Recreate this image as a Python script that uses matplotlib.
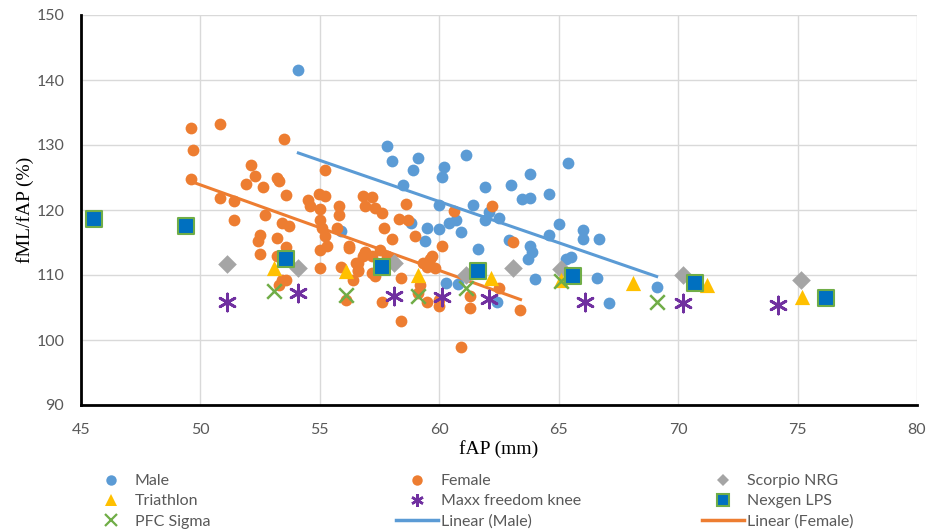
import numpy as np
import matplotlib
matplotlib.use("Agg")
import matplotlib.pyplot as plt
from matplotlib.lines import Line2D

# ---------------- data ----------------
male_x = [54.1, 55.9, 57.8, 58.0, 59.1, 58.9, 58.5, 60.2, 60.1, 61.1, 61.9, 63.0, 63.8, 63.45,
          63.8, 64.6, 60.0, 61.4, 62.1, 62.5, 61.9, 60.4, 60.7, 59.5, 60.0, 60.9, 58.8, 59.4,
          61.6, 62.9, 63.8, 63.9, 63.7, 64.6, 64.0, 60.3, 60.8, 62.4, 65.4, 65.0, 66.0, 66.0,
          66.7, 65.3, 65.5, 66.6, 67.1, 69.1]
male_y = [141.6, 116.7, 129.9, 127.6, 128.0, 126.2, 123.9, 126.6, 125.1, 128.5, 123.5, 123.8,
          125.5, 121.7, 121.9, 122.5, 120.7, 120.7, 119.7, 118.8, 118.4, 118.0, 118.4, 117.3,
          117.1, 116.6, 118.0, 115.3, 114.0, 115.4, 114.4, 113.6, 112.5, 116.2, 109.4, 108.8,
          108.6, 105.9, 127.2, 117.8, 116.9, 115.5, 115.6, 112.4, 112.8, 109.5, 105.7, 108.2]

female_x = [49.6, 50.8, 49.7, 53.5, 49.6, 52.1, 52.3, 51.9, 52.6, 53.2, 53.3, 53.6, 55.2, 50.8,
            51.4, 51.4, 52.7, 54.5, 54.6, 54.96, 55.2, 53.4, 53.7, 52.5, 52.4, 53.2, 53.6, 52.5,
            53.2, 55.0, 55.0, 55.1, 55.2, 55.7, 55.8, 55.8, 55.0, 55.3, 55.0, 55.9, 56.2, 56.1,
            53.4, 53.6, 53.3, 56.6, 56.6, 56.8, 56.9, 56.8, 57.2, 56.9, 57.3, 57.6, 58.6, 58.3,
            58.7, 57.7, 58.0, 59.0, 56.2, 56.9, 57.2, 57.5, 57.8, 58.1, 56.5, 56.6, 56.4, 57.2,
            57.3, 58.4, 59.6, 59.7, 59.8, 59.5, 59.3, 60.1, 60.6, 62.2, 63.1, 57.6, 58.4, 59.5,
            60.0, 60.0, 61.3, 61.3, 62.5, 63.4, 60.9, 59.1, 59.2]
female_y = [132.6, 133.3, 129.2, 131.0, 124.8, 126.9, 125.3, 124.0, 123.6, 124.9, 124.4, 122.3,
            126.2, 121.8, 121.4, 118.4, 119.2, 121.6, 120.6, 122.4, 122.1, 118.0, 117.6, 116.2,
            115.2, 115.7, 114.3, 113.2, 112.9, 120.1, 118.5, 117.3, 116.0, 117.3, 120.6, 119.3,
            113.9, 114.4, 111.1, 111.3, 114.4, 106.2, 109.3, 109.3, 108.5, 111.9, 110.6, 112.9,
            113.6, 122.1, 122.0, 120.6, 120.3, 119.6, 121.0, 118.6, 118.4, 117.3, 115.6, 116.0,
            114.2, 113.4, 112.9, 113.9, 112.9, 111.9, 111.9, 110.8, 109.3, 110.3, 109.8, 109.5,
            112.4, 112.9, 111.1, 111.3, 111.9, 114.4, 119.8, 120.6, 115.1, 105.8, 103.0, 105.9,
            105.2, 106.2, 106.7, 104.9, 108.0, 104.6, 99.0, 107.2, 108.5]

scorpio_x = [51.1, 54.1, 58.1, 61.1, 63.1, 65.1, 70.2, 75.15]
scorpio_y = [111.7, 111.1, 111.9, 110.0, 111.1, 110.9, 110.05, 109.3]

triathlon_x = [53.1, 56.1, 59.1, 62.15, 65.1, 68.1, 71.2, 75.2]
triathlon_y = [111.1, 110.6, 110.05, 109.5, 109.3, 108.7, 108.4, 106.6]

maxx_x = [51.1, 54.1, 58.1, 60.1, 62.1, 66.1, 70.2, 74.2]
maxx_y = [105.8, 107.3, 106.7, 106.6, 106.3, 105.9, 105.7, 105.4]

pfc_x = [53.1, 56.1, 59.1, 61.1, 65.1, 69.1]
pfc_y = [107.5, 107.0, 106.7, 108.0, 109.1, 105.8]

nexgen_x = [45.56, 49.4, 53.6, 57.6, 61.6, 65.6, 70.7, 76.2]
nexgen_y = [118.6, 117.6, 112.4, 111.2, 110.6, 109.9, 108.7, 106.45]

x_ticks = [45, 50, 55, 60, 65, 70, 75, 80]
y_ticks = [90, 100, 110, 120, 130, 140, 150]

# ---------------- style ----------------
C_MALE = "#5B9BD5"
C_FEMALE = "#ED7D31"
C_GRAY = "#A5A5A5"
C_YEL = "#FFC000"
C_PURP = "#7030A0"
C_GREEN = "#70AD47"
C_BLUE = "#0070C0"
TICK_COL = "#595959"
SANS = ["Lato", "DejaVu Sans"]
SERIF = ["Liberation Serif", "DejaVu Serif"]

fig = plt.figure(figsize=(9.36, 5.31), dpi=100)
ax = fig.add_axes([81 / 936, 1 - 405 / 531, (917 - 81) / 936, (405 - 15) / 531])

ax.set_xlim(45, 80)
ax.set_ylim(90, 150)
ax.set_xticks(x_ticks)
ax.set_yticks(y_ticks)
ax.grid(True, color="#D9D9D9", linewidth=1.0, zorder=0)
ax.set_axisbelow(True)
for s in ["top", "right"]:
    ax.spines[s].set_visible(False)
for s in ["left", "bottom"]:
    ax.spines[s].set_color("black")
    ax.spines[s].set_linewidth(2.0)
ax.tick_params(axis="x", length=0, pad=13, labelsize=11.5, labelcolor=TICK_COL)
ax.tick_params(axis="y", length=0, pad=12, labelsize=11.5, labelcolor=TICK_COL)
for lab in ax.get_xticklabels() + ax.get_yticklabels():
    lab.set_family(SANS)

ast = (6, 2, 0)

h_male = ax.scatter(male_x, male_y, s=72, color=C_MALE, zorder=3, linewidths=0)
h_female = ax.scatter(female_x, female_y, s=72, color=C_FEMALE, zorder=3, linewidths=0)

# trend lines (least squares)
mx = np.array(male_x); my = np.array(male_y)
pm = np.polyfit(mx, my, 1)
xm = np.array([mx.min(), mx.max()])
h_lm, = ax.plot(xm, np.polyval(pm, xm), color=C_MALE, lw=2.2, zorder=4)
fx = np.array(female_x); fy = np.array(female_y)
pf = np.polyfit(fx, fy, 1)
xf = np.array([fx.min(), fx.max()])
h_lf, = ax.plot(xf, np.polyval(pf, xf), color=C_FEMALE, lw=2.2, zorder=4)

h_sc = ax.scatter(scorpio_x, scorpio_y, s=90, marker="D", color=C_GRAY, zorder=5, linewidths=0)
h_tri = ax.scatter(triathlon_x, triathlon_y, s=120, marker="^", color=C_YEL, zorder=5, linewidths=0)
h_maxx = ax.scatter(maxx_x, maxx_y, s=150, marker=ast, color=C_PURP, zorder=5, linewidths=2.0)
h_pfc = ax.scatter(pfc_x, pfc_y, s=110, marker="x", color=C_GREEN, zorder=5, linewidths=1.8)
h_nex = ax.scatter(nexgen_x, nexgen_y, s=130, marker="s", facecolor=C_BLUE, edgecolor=C_GREEN,
                   zorder=6, linewidths=1.5)

ax.set_xlabel("fAP (mm)", family=SERIF, fontsize=14, labelpad=2)
ax.set_ylabel("fML/fAP (%)", family=SERIF, fontsize=14, labelpad=2)

# legends: three columns, each its own legend
def mk(marker, color, ms, mec=None, mew=0):
    return Line2D([], [], linestyle="none", marker=marker, color=color, markersize=ms,
                  markeredgecolor=mec if mec else color, markeredgewidth=mew)

col1 = [(mk("o", C_MALE, 7.5), "Male"),
        (mk("^", C_YEL, 8), "Triathlon"),
        (mk("x", C_GREEN, 8, mew=1.6), "PFC Sigma")]
col2 = [(mk("o", C_FEMALE, 7.5), "Female"),
        (mk(ast, C_PURP, 9, mew=1.8), "Maxx freedom knee"),
        (Line2D([], [], color=C_MALE, lw=2.5), "Linear (Male)")]
col3 = [(mk("D", C_GRAY, 6.5), "Scorpio NRG"),
        (mk("s", C_BLUE, 8, mec=C_GREEN, mew=1.5), "Nexgen LPS"),
        (Line2D([], [], color=C_FEMALE, lw=2.5), "Linear (Female)")]

starts = [90, 396, 702]
for col, xs in zip([col1, col2, col3], starts):
    fig.legend([c[0] for c in col], [c[1] for c in col],
               loc="upper left", bbox_to_anchor=(xs / 936, 1 - 474 / 531),
               frameon=False, prop={"family": SANS, "size": 11.5},
               handlelength=2.6, handletextpad=0.2, labelspacing=0.38,
               borderpad=0, borderaxespad=0, labelcolor=TICK_COL)

fig.savefig("out.png", dpi=100)
